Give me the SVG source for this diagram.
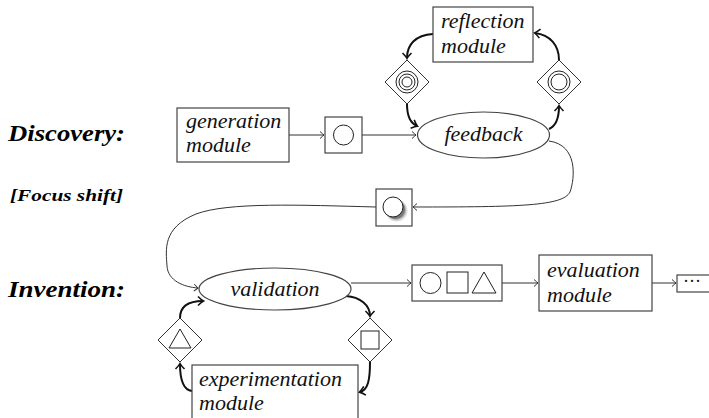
<svg xmlns="http://www.w3.org/2000/svg" width="709" height="418" viewBox="0 0 709 418">
<defs>
<marker id="a" markerUnits="userSpaceOnUse" markerWidth="10" markerHeight="10" refX="8" refY="5" orient="auto">
<path d="M4,1.5 Q7,4.2 8,5 Q7,5.8 4,8.5" fill="none" stroke="#333" stroke-width="1"/>
</marker>
<marker id="b" markerUnits="userSpaceOnUse" markerWidth="12" markerHeight="12" refX="8" refY="6" orient="auto">
<path d="M3,1.5 Q6.5,5 8.5,6 Q6.5,7 3,10.5" fill="none" stroke="#111" stroke-width="1.6"/>
</marker>
</defs>

<g id="headings" font-family="Liberation Serif" font-style="italic" font-weight="bold" fill="#000">
<text x="8" y="141" font-size="24" textLength="117" lengthAdjust="spacingAndGlyphs">Discovery:</text>
<text x="10" y="201" font-size="16" textLength="113" lengthAdjust="spacingAndGlyphs">[Focus shift]</text>
<text x="8" y="297" font-size="24" textLength="117" lengthAdjust="spacingAndGlyphs">Invention:</text>
</g>

<g id="connectors" fill="none">
<g stroke="#333" stroke-width="1" marker-end="url(#a)">
<path d="M289,135 H324"/>
<path d="M362,135 H416"/>
<path d="M549,141 C578,145 575,178 570,192 C563,206 520,207 413,207"/>
<path d="M376,207 C300,205 228,202 196,214 C162,228 166,250 167,266 C168,281 184,287 198,288"/>
<path d="M351,283 H411"/>
<path d="M502,283 H538"/>
<path d="M652,283 H676"/>
</g>
<g stroke="#111" stroke-width="2" marker-end="url(#b)">
<path d="M433,34 C415,35 407,45 407,58"/>
<path d="M407,104 C407,116 410,123 417,126"/>
<path d="M549,129 C556,126 559,118 559,106"/>
<path d="M559,60 C559,45 550,35 535,33"/>
<path d="M192,391 C183,390 180,380 180,364"/>
<path d="M180,318 C180,305 190,301 203,301"/>
<path d="M346,296 C360,297 370,305 370,316"/>
<path d="M370,362 C370,380 368,390 360,392"/>
</g>
</g>

<g font-family="Liberation Serif" font-style="italic" font-size="22" fill="#111">
<g id="reflection">
<rect x="433" y="7" width="100" height="55" fill="#fff" stroke="#444" stroke-width="1.2"/>
<text x="441" y="28">reflection</text>
<text x="441" y="53">module</text>
</g>
<g id="diamond-triple">
<path d="M407,60 L429,82 L407,104 L385,82 Z" fill="#fff" stroke="#333"/>
<g fill="none" stroke="#222">
<circle cx="407" cy="82" r="11"/>
<circle cx="407" cy="82" r="8"/>
<circle cx="407" cy="82" r="5"/>
</g>
</g>
<g id="diamond-double">
<path d="M559,60 L581,82 L559,104 L537,82 Z" fill="#fff" stroke="#333"/>
<g fill="none" stroke="#222">
<circle cx="559" cy="82" r="11"/>
<circle cx="559" cy="82" r="8"/>
</g>
</g>
<g id="generation">
<rect x="177" y="108" width="112" height="54" fill="#fff" stroke="#444" stroke-width="1.2"/>
<text x="186" y="128">generation</text>
<text x="186" y="152">module</text>
</g>
<g id="circle-box">
<rect x="325" y="117" width="37" height="36" fill="#fff" stroke="#444" stroke-width="1.2"/>
<circle cx="343.5" cy="135" r="10" fill="none" stroke="#222"/>
</g>
<g id="feedback">
<ellipse cx="483.5" cy="135" rx="66" ry="23" fill="#fff" stroke="#444" stroke-width="1.2"/>
<text x="483.5" y="141" text-anchor="middle">feedback</text>
</g>
<g id="focus-box">
<rect x="376" y="189" width="36" height="37" fill="#fff" stroke="#444" stroke-width="1.2"/>
<circle cx="396.5" cy="210.5" r="11" fill="#999" opacity="0.35"/>
<circle cx="396" cy="210" r="10" fill="#777" opacity="0.5"/>
<circle cx="395.5" cy="209.5" r="9.5" fill="#555" opacity="0.6"/>
<circle cx="393" cy="207" r="10" fill="#fff" stroke="#222" stroke-width="1"/>
</g>
<g id="validation">
<ellipse cx="275" cy="289" rx="76" ry="21" fill="#fff" stroke="#444" stroke-width="1.2"/>
<text x="275" y="296" text-anchor="middle">validation</text>
</g>
<g id="shapes-box">
<rect x="412" y="265" width="90" height="36" fill="#fff" stroke="#444" stroke-width="1.2"/>
<g fill="none" stroke="#222">
<circle cx="430.5" cy="283" r="10.5"/>
<rect x="447" y="272" width="21" height="21"/>
<path d="M484,272 L496,293 L472,293 Z"/>
</g>
</g>
<g id="evaluation">
<rect x="539" y="255" width="113" height="56" fill="#fff" stroke="#444" stroke-width="1.2"/>
<text x="547" y="277">evaluation</text>
<text x="547" y="302">module</text>
</g>
<g id="dots">
<rect x="677" y="275" width="40" height="17" fill="#fff" stroke="#444" stroke-width="1.2"/>
<text x="683" y="287" font-style="normal" font-size="18">&#183;&#183;&#183;</text>
</g>
<g id="diamond-triangle">
<path d="M180,318 L202,340 L180,362 L158,340 Z" fill="#fff" stroke="#333"/>
<path d="M180,329 L191,348 L169,348 Z" fill="none" stroke="#222"/>
</g>
<g id="diamond-square">
<path d="M370,318 L392,340 L370,362 L348,340 Z" fill="#fff" stroke="#333"/>
<rect x="361" y="331" width="18" height="18" fill="none" stroke="#222"/>
</g>
<g id="experimentation">
<rect x="192" y="365" width="166" height="60" fill="#fff" stroke="#444" stroke-width="1.2"/>
<text x="199" y="386">experimentation</text>
<text x="199" y="410">module</text>
</g>
</g>
</svg>
